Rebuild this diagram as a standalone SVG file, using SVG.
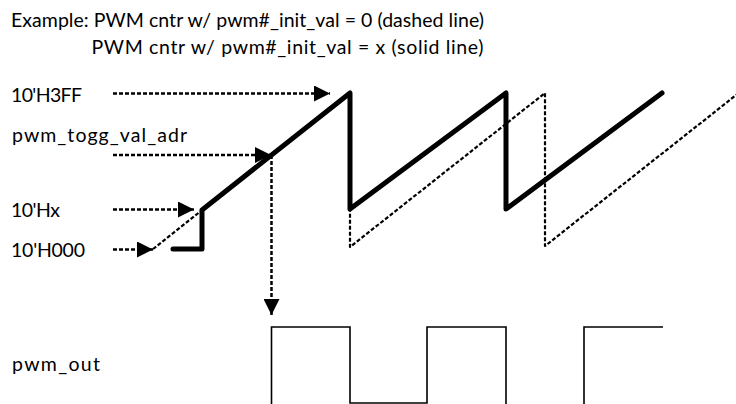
<svg xmlns="http://www.w3.org/2000/svg" width="736" height="404" viewBox="0 0 736 404">
  <style>
    text { font-family: Lato, "Open Sans", "Liberation Sans", sans-serif; font-size: 19.5px; fill: #000; }
    .dash { fill: none; stroke: #000; stroke-width: 2.5; stroke-dasharray: 4 2; }
    .dwave { fill: none; stroke: #000; stroke-width: 2.2; stroke-dasharray: 4 2; stroke-linejoin: round; }
    .solid { fill: none; stroke: #000; stroke-width: 5; stroke-linecap: round; stroke-linejoin: round; }
    .pwm { fill: none; stroke: #000; stroke-width: 1.6; }
  </style>
  <defs>
    <marker id="ah" markerUnits="userSpaceOnUse" markerWidth="16" markerHeight="16" refX="16" refY="8" orient="auto" viewBox="0 0 16 16">
      <path d="M0,0 L16,8 L0,16 Z" fill="#000" stroke="none"/>
    </marker>
  </defs>

  <g id="title">
    <text x="11" y="27" textLength="473">Example: PWM cntr w/ pwm#_init_val = 0 (dashed line)</text>
    <text x="91.5" y="53.5" textLength="392">PWM cntr w/ pwm#_init_val = x (solid line)</text>
  </g>

  <g id="label-3ff"><text x="11" y="101.5" textLength="71">10'H3FF</text></g>
  <g id="label-togg"><text x="12" y="142" textLength="175">pwm_togg_val_adr</text></g>
  <g id="label-hx"><text x="11" y="217" textLength="49">10'Hx</text></g>
  <g id="label-h000"><text x="11" y="257" textLength="74">10'H000</text></g>
  <g id="label-pwmout"><text x="12" y="371" textLength="88">pwm_out</text></g>

  <g id="dashed-counter">
    <path class="dwave" d="M153,249 L350,93 V247 L545,93 V246 L740,92"/>
  </g>
  <g id="solid-counter">
    <path class="solid" d="M173,249 H202 V210 L350,93 V209 L506,93 V209 L662,93"/>
  </g>
  <g id="pwm-out-wave">
    <path class="pwm" d="M271.5,406 V327 H350 V403 H427 V327 H506 V406 M584,406 V327 H663"/>
  </g>

  <g id="connectors">
    <line class="dash" x1="113" y1="93.5" x2="330" y2="93.5" marker-end="url(#ah)"/>
    <line class="dash" x1="113" y1="155" x2="271" y2="155" marker-end="url(#ah)"/>
    <line class="dash" x1="113" y1="209.5" x2="194" y2="209.5" marker-end="url(#ah)"/>
    <line class="dash" x1="113" y1="249.5" x2="153" y2="249.5" marker-end="url(#ah)"/>
    <line class="dash" x1="271.5" y1="155" x2="271.5" y2="315" marker-end="url(#ah)"/>
  </g>
</svg>
